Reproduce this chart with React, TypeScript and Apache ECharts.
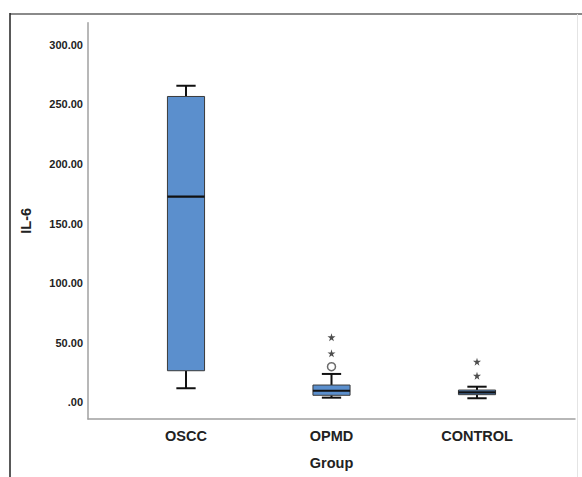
import React, { useEffect, useRef } from "react";
import * as echarts from "echarts";

const categories = ["OSCC", "OPMD", "CONTROL"];
const lowerWhisker = [11.8, 3.9, 3.4];
const q1 = [26.5, 5.9, 6.4];
const median = [172.6, 9.7, 8.4];
const q3 = [256.6, 14.5, 10.3];
const upperWhisker = [265.6, 23.8, 13.1];
// outliers: [category index, value]
const mildOutliers = [[1, 29.9]];
const extremeOutliers = [
  [1, 41.1],
  [1, 54.6],
  [2, 22.3],
  [2, 34.1],
];
const yTicks = [0, 50, 100, 150, 200, 250, 300];

const STAR =
  "path://M50,0 L61,35 L98,35 L68,57 L79,91 L50,70 L21,91 L32,57 L2,35 L39,35 Z";

export default function App() {
  const ref = useRef<HTMLDivElement>(null);

  useEffect(() => {
    if (!ref.current) return;
    const chart = echarts.init(ref.current, undefined, { renderer: "svg" });
    const boxData = categories.map((_, i) => [
      i,
      lowerWhisker[i],
      q1[i],
      median[i],
      q3[i],
      upperWhisker[i],
    ]);
    const font = "'Liberation Sans', Arial, sans-serif";
    chart.setOption({
      animation: false,
      backgroundColor: "#ffffff",
      graphic: [
        {
          type: "line",
          shape: { x1: 10, y1: 14, x2: 582, y2: 14 },
          style: { stroke: "#8a8a8a", lineWidth: 2 },
        },
        {
          type: "line",
          shape: { x1: 10, y1: 13, x2: 10, y2: 477 },
          style: { stroke: "#222222", lineWidth: 1.5 },
        },
        {
          type: "line",
          shape: { x1: 577.5, y1: 14, x2: 577.5, y2: 477 },
          style: { stroke: "#e4e4e4", lineWidth: 1 },
        },
      ],
      grid: {
        left: 88,
        right: 7,
        top: 22.7,
        bottom: 58,
        containLabel: false,
        outerBoundsMode: "none",
      },
      xAxis: {
        type: "value",
        min: -0.6735,
        max: 2.6735,
        splitLine: { show: false },
        axisTick: { show: false },
        axisLine: { show: true, onZero: false, lineStyle: { color: "#a0a0a0", width: 1.5 } },
        axisLabel: {
          customValues: [0, 1, 2],
          formatter: (v: number) => categories[Math.round(v)] ?? "",
          fontFamily: font,
          fontWeight: "bold",
          fontSize: 14.5,
          color: "#222222",
          margin: 9,
        },
        name: "Group",
        nameLocation: "middle",
        nameGap: 36,
        nameTextStyle: {
          fontFamily: font,
          fontWeight: "bold",
          fontSize: 14.5,
          color: "#222222",
        },
      },
      yAxis: {
        type: "value",
        min: -14,
        max: 318.5,
        splitLine: { show: false },
        axisTick: { show: false },
        axisLine: { show: true, onZero: false, lineStyle: { color: "#a0a0a0", width: 1.5 } },
        axisLabel: {
          customValues: yTicks,
          formatter: (v: number) => (v === 0 ? ".00" : v.toFixed(2)),
          fontFamily: font,
          fontWeight: "bold",
          fontSize: 11,
          color: "#222222",
          margin: 5,
        },
        name: "IL-6",
        nameLocation: "middle",
        nameGap: 55,
        nameRotate: 90,
        nameTextStyle: {
          fontFamily: font,
          fontWeight: "bold",
          fontSize: 14.5,
          color: "#222222",
        },
      },
      series: [
        {
          type: "custom",
          data: boxData,
          encode: { x: 0, y: [1, 2, 3, 4, 5] },
          renderItem: (params: any, api: any) => {
            const x = api.value(0);
            const pLow = api.coord([x, api.value(1)]);
            const pQ1 = api.coord([x, api.value(2)]);
            const pMed = api.coord([x, api.value(3)]);
            const pQ3 = api.coord([x, api.value(4)]);
            const pHigh = api.coord([x, api.value(5)]);
            const cx = pLow[0];
            const bw = api.size([1, 0])[0] * 0.255;
            const cw = bw * 0.52;
            const black = "#111111";
            return {
              type: "group",
              children: [
                {
                  type: "line",
                  shape: { x1: cx, y1: pQ3[1], x2: cx, y2: pHigh[1] },
                  style: { stroke: black, lineWidth: 2 },
                },
                {
                  type: "line",
                  shape: { x1: cx - cw / 2, y1: pHigh[1], x2: cx + cw / 2, y2: pHigh[1] },
                  style: { stroke: black, lineWidth: 2 },
                },
                {
                  type: "line",
                  shape: { x1: cx, y1: pQ1[1], x2: cx, y2: pLow[1] },
                  style: { stroke: black, lineWidth: 2 },
                },
                {
                  type: "line",
                  shape: { x1: cx - cw / 2, y1: pLow[1], x2: cx + cw / 2, y2: pLow[1] },
                  style: { stroke: black, lineWidth: 2 },
                },
                {
                  type: "rect",
                  shape: { x: cx - bw / 2, y: pQ3[1], width: bw, height: pQ1[1] - pQ3[1] },
                  style: { fill: "#5b8fcd", stroke: "#3a3a3a", lineWidth: 1 },
                },
                {
                  type: "line",
                  shape: { x1: cx - bw / 2, y1: pMed[1], x2: cx + bw / 2, y2: pMed[1] },
                  style: { stroke: black, lineWidth: 2.2 },
                },
              ],
            };
          },
          z: 2,
        },
        {
          type: "scatter",
          data: mildOutliers,
          symbol: "circle",
          symbolSize: 8,
          itemStyle: { color: "#ffffff", borderColor: "#444444", borderWidth: 1.5 },
          z: 3,
        },
        {
          type: "scatter",
          data: extremeOutliers,
          symbol: STAR,
          symbolSize: 8,
          itemStyle: { color: "#222222" },
          z: 3,
        },
      ],
    });
    return () => chart.dispose();
  }, []);

  return (
    <div
      ref={ref}
      style={{ position: "fixed", left: 0, top: 0, width: 582, height: 477, background: "#fff" }}
    />
  );
}
